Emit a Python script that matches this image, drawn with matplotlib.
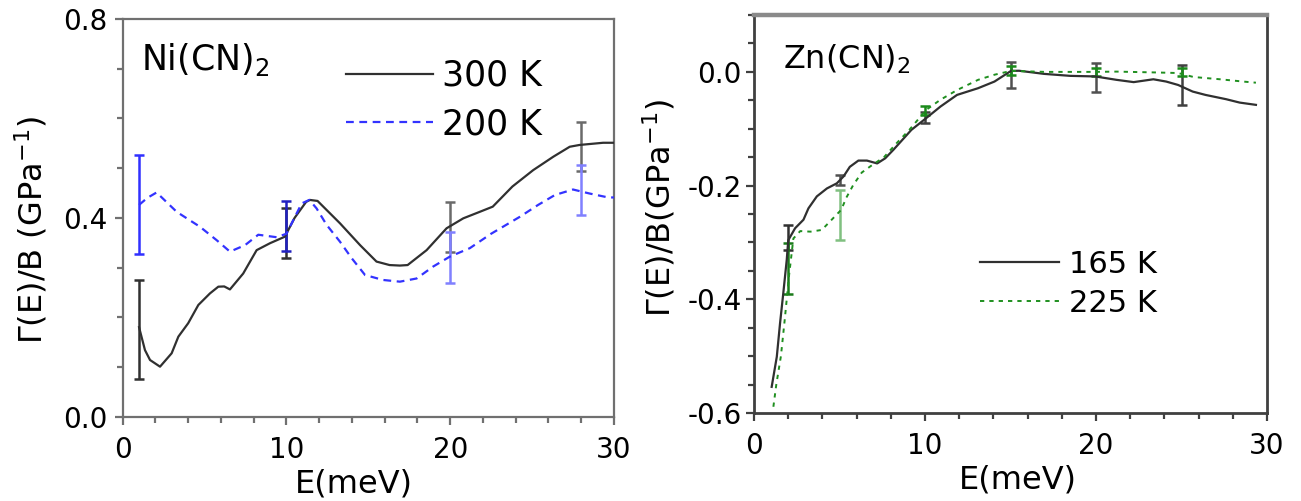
import matplotlib
matplotlib.use("Agg")
import matplotlib.pyplot as plt
from matplotlib.ticker import MultipleLocator, FormatStrFormatter

plt.rcParams['font.family'] = ['DejaVu Sans']
plt.rcParams['mathtext.fontset'] = 'dejavusans'

# ---------------- Ni(CN)2 ----------------
ni300_E = [1.0, 1.36, 1.67, 2.28, 2.99, 3.4, 4.0, 4.62, 5.33, 5.84, 6.2, 6.55, 7.36, 8.18,
           9.0, 9.9, 10.5, 11.2, 11.43, 11.9, 13.27, 14.5, 15.5, 16.3, 16.93, 17.4, 18.56,
           19.78, 20.8, 21.8, 22.6, 23.8, 25.07, 26.3, 27.3, 27.9, 29.34, 30.0]
ni300_v = [0.18, 0.134, 0.114, 0.1006, 0.1275, 0.161, 0.188, 0.2247, 0.248, 0.2615, 0.262,
           0.256, 0.288, 0.335, 0.349, 0.362, 0.40, 0.432, 0.436, 0.434, 0.389, 0.345, 0.312,
           0.305, 0.304, 0.305, 0.335, 0.379, 0.399, 0.412, 0.4225, 0.463, 0.496, 0.523, 0.543,
           0.5466, 0.551, 0.551]

ni200_E = [1.0, 1.5, 2.07, 3.3, 4.72, 5.74, 6.55, 7.47, 8.28, 9.4, 10.0, 10.93, 11.4, 11.84,
           12.45, 13.27, 13.98, 14.8, 15.9, 16.93, 17.95, 18.96, 19.98, 21.2, 22.5, 24.25,
           25.37, 26.4, 27.5, 28.5, 29.65, 30.0]
ni200_v = [0.426, 0.44, 0.451, 0.412, 0.382, 0.355, 0.332, 0.345, 0.366, 0.361, 0.368, 0.429,
           0.436, 0.419, 0.386, 0.352, 0.319, 0.285, 0.275, 0.2716, 0.278, 0.302, 0.322, 0.339,
           0.368, 0.402, 0.426, 0.446, 0.457, 0.449, 0.441, 0.441]

ni300_errE = [1, 10, 20, 28]
ni300_errC = [0.1755, 0.3695, 0.382, 0.5435]
ni300_errD = [0.1, 0.0495, 0.05, 0.0495]
ni300_errColors = ['#303030', '#303030', '#6a6a6a', '#6a6a6a']

ni200_errE = [1, 10, 20, 28]
ni200_errC = [0.4265, 0.383, 0.32, 0.456]
ni200_errD = [0.1, 0.05, 0.052, 0.05]
ni200_errColors = ['#3030ff', '#2020c0', '#8080ff', '#8080ff']

# ---------------- Zn(CN)2 ----------------
zn165_E = [1.03, 1.33, 1.52, 1.71, 1.91, 2.0, 2.4, 2.89, 3.18, 3.67, 4.26, 4.84, 5.23, 5.6,
           6.1, 6.6, 7.2, 7.67, 8.15, 9.2, 10.06, 10.9, 11.87, 13.1, 14.06, 15.03, 15.5,
           16.96, 18.5, 19.95, 21.2, 22.2, 23.35, 24.1, 24.8, 25.65, 26.4, 27.6, 28.4, 29.35]
zn165_v = [-0.554, -0.501, -0.442, -0.389, -0.331, -0.296, -0.275, -0.26, -0.24, -0.219,
           -0.205, -0.196, -0.184, -0.167, -0.156, -0.156, -0.161, -0.152, -0.137, -0.102,
           -0.0815, -0.061, -0.0405, -0.0287, -0.017, 0.0018, 0.002, -0.0035, -0.007, -0.008,
           -0.014, -0.018, -0.013, -0.017, -0.023, -0.0346, -0.0405, -0.048, -0.054, -0.058]

zn225_E = [1.13, 1.3, 1.57, 1.8, 2.05, 2.3, 2.7, 3.3, 3.96, 4.54, 5.1, 5.4, 5.8, 6.3, 6.9,
           7.6, 8.35, 9.08, 10.06, 10.9, 11.87, 13.1, 14.06, 15.03, 17.0, 19.9, 21.2, 23.5,
           24.8, 25.7, 27.25, 28.6, 29.35]
zn225_v = [-0.589, -0.55, -0.50, -0.434, -0.357, -0.293, -0.28, -0.281, -0.278, -0.26,
           -0.2425, -0.221, -0.199, -0.177, -0.164, -0.150, -0.125, -0.102, -0.067, -0.049,
           -0.032, -0.014, -0.005, 0.0018, 0.0, 0.0, 0.0005, -0.001, -0.002, -0.009, -0.013,
           -0.017, -0.019]

zn165_errE = [2, 5, 10, 15, 20, 25]
zn165_errC = [-0.2915, -0.19, -0.08, -0.005, -0.01, -0.023]
zn165_errD = [0.0225, 0.0095, 0.01, 0.023, 0.025, 0.035]
zn165_errColors = ['#303030', '#505050', '#404040', '#505050', '#505050', '#404040']

zn225_errE = [2, 5, 10, 15, 20, 25]
zn225_errC = [-0.346, -0.2516, -0.068, 0.002, 0.0, 0.0]
zn225_errD = [0.045, 0.044, 0.008, 0.008, 0.007, 0.007]
zn225_errColors = ['#1a7a1a', '#80c080', '#1a8a1a', '#1a8a1a', '#1a8a1a', '#1a8a1a']

fig = plt.figure(figsize=(13.01, 5.01), dpi=100)
ax1 = fig.add_axes([0.0943, 0.1683, 0.3776, 0.7938])
ax2 = fig.add_axes([0.5796, 0.1756, 0.3943, 0.7944])

BLACK = '#303030'
BLUE = '#3333ff'
GREEN = '#1f8f1f'


def errbars(ax, E, C, D, colors):
    for e, c, d, col in zip(E, C, D, colors):
        ax.errorbar([e], [c], yerr=[d], fmt='none', ecolor=col, elinewidth=1.8,
                    capsize=3.5, capthick=1.8, zorder=2)


# ---- left panel ----
errbars(ax1, ni300_errE, ni300_errC, ni300_errD, ni300_errColors)
errbars(ax1, ni200_errE, ni200_errC, ni200_errD, ni200_errColors)
ax1.plot(ni300_E, ni300_v, color=BLACK, lw=1.6, label='300 K', zorder=3)
ax1.plot(ni200_E, ni200_v, color=BLUE, lw=1.6, ls=(0, (3.5, 2.5)), label='200 K', zorder=3)
ax1.set_xlim(0, 30)
ax1.set_ylim(0.0, 0.8)
ax1.xaxis.set_major_locator(MultipleLocator(10))
ax1.xaxis.set_minor_locator(MultipleLocator(2))
ax1.yaxis.set_major_locator(MultipleLocator(0.4))
ax1.yaxis.set_minor_locator(MultipleLocator(0.1))
ax1.yaxis.set_major_formatter(FormatStrFormatter('%.1f'))
for s in ax1.spines.values():
    s.set_color('#707070')
    s.set_linewidth(1.6)
ax1.tick_params(which='both', direction='out', colors='#707070', labelcolor='black',
                labelsize=20, width=1.6)
ax1.tick_params(which='major', length=6)
ax1.tick_params(which='minor', length=4.5)
ax1.tick_params(axis='x', pad=8)
ax1.tick_params(axis='y', pad=5)
ax1.set_xlabel('E(meV)', fontsize=23, labelpad=0)
ax1.set_ylabel('Γ(E)/B (GPa$^{-1}$)', fontsize=23)
ax1.yaxis.set_label_coords(-0.148, 0.469)
ax1.xaxis.set_label_coords(0.47, -0.13)
ax1.text(0.037, 0.945, 'Ni(CN)$_2$', transform=ax1.transAxes, fontsize=25,
         va='top', ha='left')
ax1.legend(loc='upper left', bbox_to_anchor=(0.455, 0.90), frameon=False, fontsize=25,
           borderpad=0, borderaxespad=0, handlelength=2.5, handletextpad=0.25,
           labelspacing=0.42)

# ---- right panel ----
errbars(ax2, zn165_errE, zn165_errC, zn165_errD, zn165_errColors)
errbars(ax2, zn225_errE, zn225_errC, zn225_errD, zn225_errColors)
ax2.plot(zn165_E, zn165_v, color=BLACK, lw=1.6, label='165 K', zorder=3)
ax2.plot(zn225_E, zn225_v, color=GREEN, lw=1.4, ls=(0, (2.2, 2.6)), label='225 K', zorder=3)
ax2.set_xlim(0, 30)
ax2.set_ylim(-0.6, 0.1)
ax2.xaxis.set_major_locator(MultipleLocator(10))
ax2.xaxis.set_minor_locator(MultipleLocator(2))
ax2.yaxis.set_major_locator(MultipleLocator(0.2))
ax2.yaxis.set_minor_locator(MultipleLocator(0.05))
ax2.yaxis.set_major_formatter(FormatStrFormatter('%.1f'))
for k, s in ax2.spines.items():
    s.set_color('#404040')
    s.set_linewidth(2.0)
ax2.spines['top'].set_color('#8a8a8a')
ax2.spines['top'].set_linewidth(3.2)
ax2.tick_params(which='both', direction='out', colors='#404040', labelcolor='black',
                labelsize=20, width=1.6)
ax2.tick_params(which='major', length=6)
ax2.tick_params(which='minor', length=4.5)
ax2.tick_params(axis='x', pad=8)
ax2.tick_params(axis='y', pad=3)
ax2.set_xlabel('E(meV)', fontsize=23, labelpad=0)
ax2.set_ylabel('Γ(E)/B(GPa$^{-1}$)', fontsize=23)
ax2.yaxis.set_label_coords(-0.150, 0.515)
ax2.xaxis.set_label_coords(0.515, -0.13)
ax2.text(0.0565, 0.93, 'Zn(CN)$_2$', transform=ax2.transAxes, fontsize=23,
         va='top', ha='left')
ax2.legend(loc='upper left', bbox_to_anchor=(0.4405, 0.41), frameon=False, fontsize=22,
           borderpad=0, borderaxespad=0, handlelength=2.6, handletextpad=0.3,
           labelspacing=0.33)

fig.savefig('out.png', dpi=100)
